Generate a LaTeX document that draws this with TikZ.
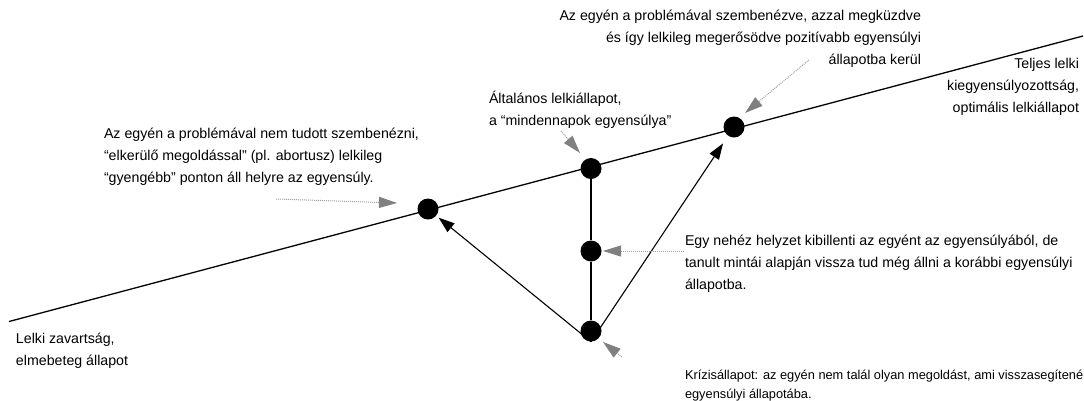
\documentclass[tikz,border=0pt]{standalone}
\usepackage{fontspec}
\setmainfont{Liberation Sans}
\usetikzlibrary{arrows.meta}
\definecolor{ptrgray}{HTML}{808080}
\definecolor{dotgray}{HTML}{A0A0A0}
\tikzset{
  txt/.style={inner sep=0pt, outer sep=0pt, font=\fontsize{14.2}{22}\selectfont},
  smalltxt/.style={inner sep=0pt, outer sep=0pt, font=\fontsize{12.8}{19.5}\selectfont},
  dotnode/.style={circle, fill=black, draw=none, minimum size=21pt, inner sep=0pt},
  mainline/.style={line width=1.3pt, black},
  vline/.style={line width=1.2pt, black},
  arr/.style={line width=1.1pt, black, -{Triangle[length=16pt,width=11pt]}},
  ptr/.style={line width=1pt, dotgray, densely dotted, -{Triangle[length=18pt,width=11pt,color=ptrgray,fill=ptrgray]}}
}
\begin{document}
\begin{tikzpicture}[x=1pt,y=-1pt]
\useasboundingbox (0,0) rectangle (1084,400);
% main line
\coordinate (lineL) at (9,321.5);
\coordinate (lineR) at (1083,36);
\draw[mainline] (lineL) -- (lineR);
% dots
\node[dotnode] (L) at (428,209) {};
\node[dotnode] (A) at (591,168.5) {};
\node[dotnode] (M) at (591,251) {};
\node[dotnode] (C) at (591,331) {};
\node[dotnode] (R) at (734,127) {};
% vertical
\draw[vline] (A) -- (M) -- (C);
% arrows
\draw[arr, shorten >=3pt] (C.south) -- (L);
\draw[arr, shorten >=9pt] (C.south) -- (R);
% texts (north = first baseline - 15.4)
\node[txt, anchor=north east, align=right] (ttop) at (921,4.6)
 {\strut Az egyén a problémával szembenézve, azzal megküzdve\\
  \strut és így lelkileg megerősödve pozitívabb egyensúlyi\\
  \strut állapotba kerül};
\node[txt, anchor=north east, align=right] (tright) at (1079,52.6)
 {\strut Teljes lelki\\ \strut kiegyensúlyozottság,\\ \strut optimális lelkiállapot};
\node[txt, anchor=north west, align=left] (tgen) at (489,87.6)
 {\strut Általános lelkiállapot,\\ \strut a “mindennapok egyensúlya”};
\node[txt, anchor=north west, align=left] (tleft) at (104,122.6)
 {\strut Az egyén a problémával nem tudott szembenézni,\\
  \strut “elkerülő megoldással” (pl. abortusz) lelkileg\\
  \strut “gyengébb” ponton áll helyre az egyensúly.};
\node[txt, anchor=north west, align=left] (tmid) at (685,230.1)
 {\strut Egy nehéz helyzet kibillenti az egyént az egyensúlyából, de\\
  \strut tanult mintái alapján vissza tud még állni a korábbi egyensúlyi\\
  \strut állapotba.};
\node[smalltxt, anchor=north west, align=left] (tcrisis) at (685,365.6)
 {\strut Krízisállapot: az egyén nem talál olyan megoldást, ami visszasegítené\\
  \strut egyensúlyi állapotába.};
\node[txt, anchor=north west, align=left] (tlow) at (16,327.6)
 {\strut Lelki zavartság,\\ \strut elmebeteg állapot};
% pointers
\coordinate (p1s) at (809,60);   \coordinate (p1t) at (745,113);
\coordinate (p2s) at (561,131);  \coordinate (p2t) at (580,153);
\coordinate (p3s) at (276,199);  \coordinate (p3t) at (397,203);
\coordinate (p4s) at (684,251);  \coordinate (p4t) at (603,251);
\coordinate (p5s) at (622,357);  \coordinate (p5t) at (603,342);
\draw[ptr] (p1s) -- (p1t);
\draw[ptr] (p2s) -- (p2t);
\draw[ptr] (p3s) -- (p3t);
\draw[ptr] (p4s) -- (p4t);
\draw[ptr] (p5s) -- (p5t);
\end{tikzpicture}
\end{document}
